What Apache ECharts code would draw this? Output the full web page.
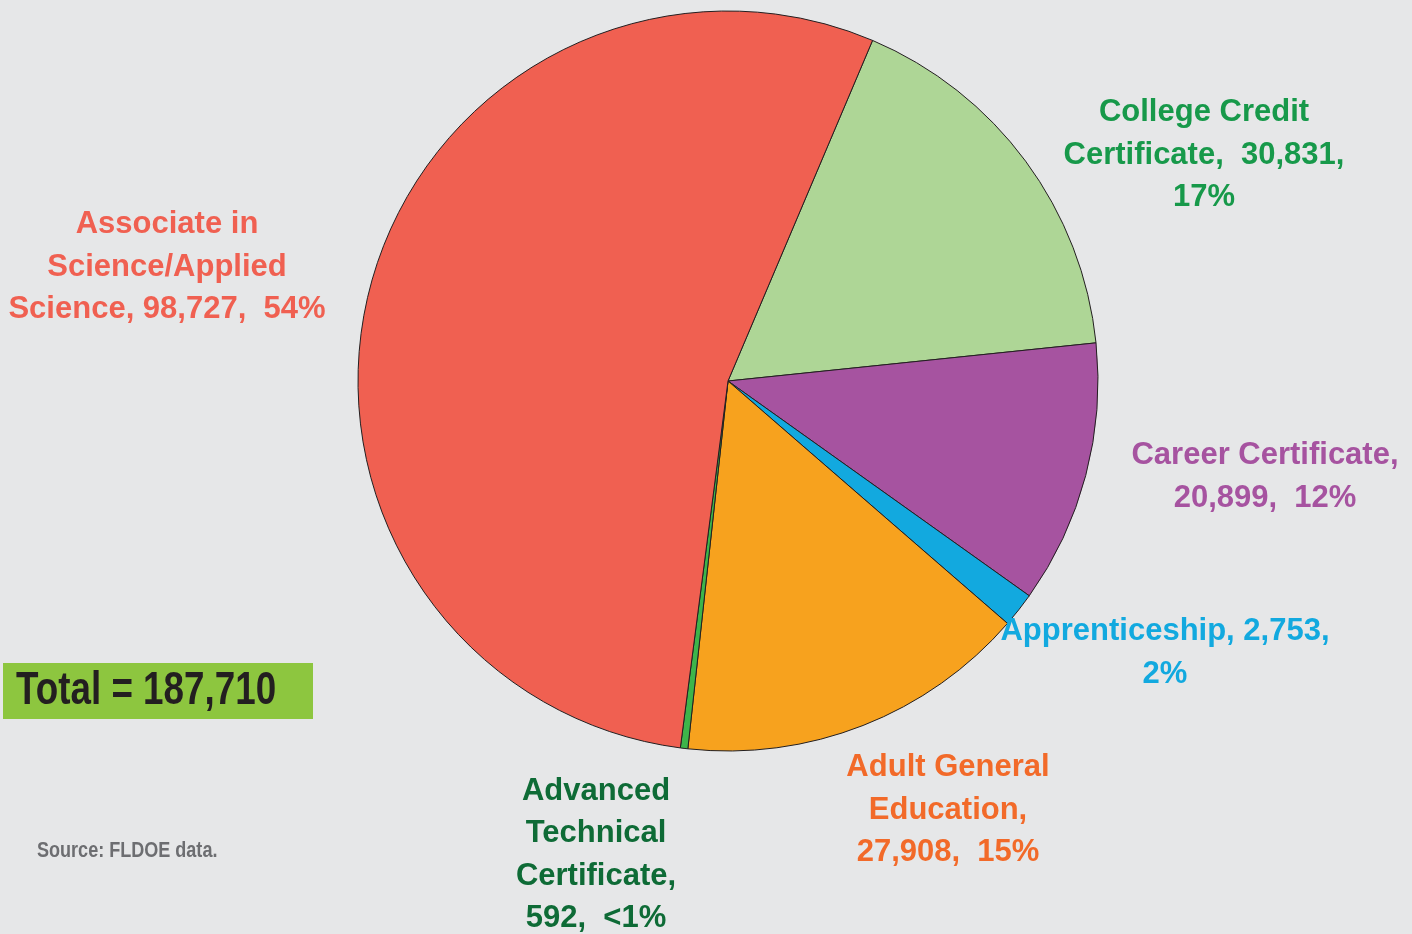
<!DOCTYPE html>
<html>
<head>
<meta charset="utf-8">
<script src="https://cdn.jsdelivr.net/npm/echarts@6/dist/echarts.min.js"></script>
<style>
html,body{margin:0;padding:0;background:#E6E7E8;}
#chart{width:1412px;height:934px;}
</style>
</head>
<body>
<div id="chart"></div>
<script>
var categories = ['College Credit Certificate', 'Career Certificate', 'Apprenticeship', 'Adult General Education', 'Advanced Technical Certificate', 'Associate in Science/Applied Science'];
var values = [30831, 20899, 2753, 27908, 592, 98727];
var labelTexts = [
  'College Credit\nCertificate,  30,831,\n17%',
  'Career Certificate,\n20,899,  12%',
  'Apprenticeship, 2,753,\n2%',
  'Adult General\nEducation,\n27,908,  15%',
  'Advanced\nTechnical\nCertificate,\n592,  <1%',
  'Associate in\nScience/Applied\nScience, 98,727,  54%'
];
var totalText = 'Total = 187,710';
var sourceText = 'Source: FLDOE data.';

var sliceColors = ['#AED696', '#A653A0', '#12A9DF', '#F7A21E', '#3DB54A', '#F06051'];
var textColors = ['#17994A', '#A653A0', '#12A9DF', '#F26A29', '#0E6B36', '#F06051'];
var labelPos = [[1204,155],[1265,477],[1165,653],[948,810],[596,855],[167,267]];

var FONT = '"Liberation Sans", Arial, "Helvetica Neue", sans-serif';

var chart = echarts.init(document.getElementById('chart'));
var data = categories.map(function(c, i){
  return {
    name: c, value: values[i],
    itemStyle: {color: sliceColors[i]},
    label: {color: textColors[i], formatter: labelTexts[i]}
  };
});
chart.setOption({
  backgroundColor: '#E6E7E8',
  animation: false,
  series: [{
    type: 'pie',
    center: [728, 381],
    radius: 370,
    startAngle: 67,
    clockwise: true,
    avoidLabelOverlap: false,
    itemStyle: {borderColor: '#231F20', borderWidth: 1},
    label: {
      show: true,
      fontFamily: FONT,
      fontWeight: 'bold',
      fontSize: 31,
      lineHeight: 42.5,
      align: 'center'
    },
    labelLine: {show: false},
    labelLayout: function(p){
      var pos = labelPos[p.dataIndex];
      return {x: pos[0], y: pos[1], align: 'center', verticalAlign: 'middle', hideOverlap: false};
    },
    emphasis: {disabled: true},
    data: data
  }],
  graphic: [
    {type: 'rect', left: 3, top: 663, shape: {width: 310, height: 56}, style: {fill: '#8DC63F'}},
    {type: 'text', x: 16, y: 691, scaleX: 0.8, style: {text: totalText, font: 'bold 46px ' + FONT, fill: '#231F20', verticalAlign: 'middle'}},
    {type: 'text', x: 37, y: 851, scaleX: 0.82, style: {text: sourceText, font: 'bold 22px ' + FONT, fill: '#6D6E71', verticalAlign: 'middle'}}
  ]
});
</script>
</body>
</html>
